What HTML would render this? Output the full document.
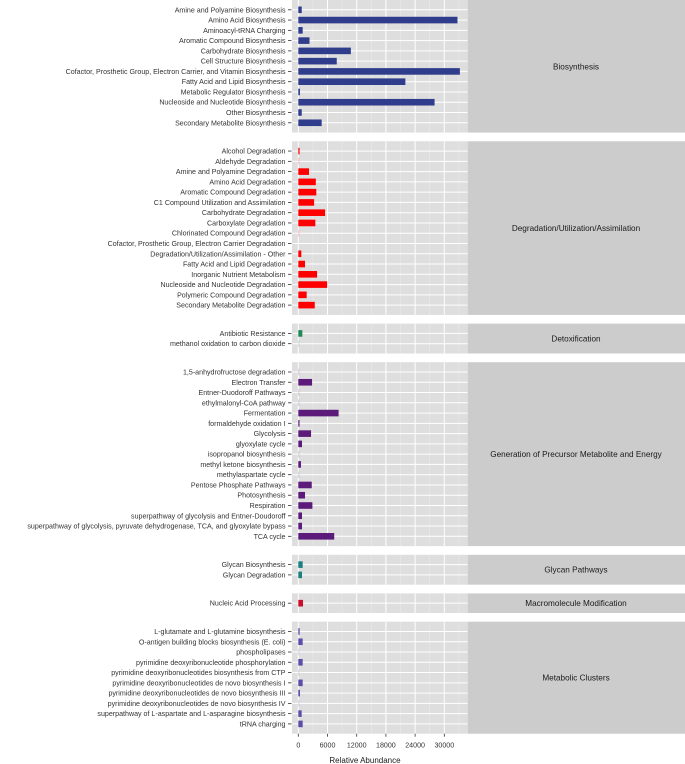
<!DOCTYPE html>
<html><head><meta charset="utf-8"><style>
html,body{margin:0;padding:0;background:#fff}
svg{display:block;font-family:"Liberation Sans",Arial,sans-serif}
</style></head><body>
<svg id="chart" width="685" height="764"></svg>
<script>
const facets = ["Biosynthesis","Degradation/Utilization/Assimilation","Detoxification","Generation of Precursor Metabolite and Energy","Glycan Pathways","Macromolecule Modification","Metabolic Clusters"];
const facetColors = ["#2f3d8c","#ff0000","#1f8a55","#5c1a7a","#1a8080","#c8102e","#5a4fa8"];
const catBio = ["Amine and Polyamine Biosynthesis","Amino Acid Biosynthesis","Aminoacyl-tRNA Charging","Aromatic Compound Biosynthesis","Carbohydrate Biosynthesis","Cell Structure Biosynthesis","Cofactor, Prosthetic Group, Electron Carrier, and Vitamin Biosynthesis","Fatty Acid and Lipid Biosynthesis","Metabolic Regulator Biosynthesis","Nucleoside and Nucleotide Biosynthesis","Other Biosynthesis","Secondary Metabolite Biosynthesis"];
const valBio = [700,32700,900,2300,10800,7900,33200,22000,340,28000,700,4800];
const catDeg = ["Alcohol Degradation","Aldehyde Degradation","Amine and Polyamine Degradation","Amino Acid Degradation","Aromatic Compound Degradation","C1 Compound Utilization and Assimilation","Carbohydrate Degradation","Carboxylate Degradation","Chlorinated Compound Degradation","Cofactor, Prosthetic Group, Electron Carrier Degradation","Degradation/Utilization/Assimilation - Other","Fatty Acid and Lipid Degradation","Inorganic Nutrient Metabolism","Nucleoside and Nucleotide Degradation","Polymeric Compound Degradation","Secondary Metabolite Degradation"];
const valDeg = [260,150,2200,3600,3700,3250,5500,3500,150,0,620,1380,3860,5930,1720,3380];
const catDet = ["Antibiotic Resistance","methanol oxidation to carbon dioxide"];
const valDet = [830,100];
const catGen = ["1,5-anhydrofructose degradation","Electron Transfer","Entner-Duodoroff Pathways","ethylmalonyl-CoA pathway","Fermentation","formaldehyde oxidation I","Glycolysis","glyoxylate cycle","isopropanol biosynthesis","methyl ketone biosynthesis","methylaspartate cycle","Pentose Phosphate Pathways","Photosynthesis","Respiration","superpathway of glycolysis and Entner-Doudoroff","superpathway of glycolysis, pyruvate dehydrogenase, TCA, and glyoxylate bypass","TCA cycle"];
const valGen = [100,2830,150,60,8280,250,2620,760,150,550,60,2760,1380,2900,760,760,7380];
const catGly = ["Glycan Biosynthesis","Glycan Degradation"];
const valGly = [900,760];
const catMac = ["Nucleic Acid Processing"];
const valMac = [970];
const catMet = ["L-glutamate and L-glutamine biosynthesis","O-antigen building blocks biosynthesis (E. coli)","phospholipases","pyrimidine deoxyribonucleotide phosphorylation","pyrimidine deoxyribonucleotides biosynthesis from CTP","pyrimidine deoxyribonucleotides de novo biosynthesis I","pyrimidine deoxyribonucleotides de novo biosynthesis III","pyrimidine deoxyribonucleotides de novo biosynthesis IV","superpathway of L-aspartate and L-asparagine biosynthesis","tRNA charging"];
const valMet = [280,900,100,900,100,900,345,100,690,900];
const xTicks = [0,6000,12000,18000,24000,30000];
const xTickLabels = ["0","6000","12000","18000","24000","30000"];

const allCats = [catBio,catDeg,catDet,catGen,catGly,catMac,catMet];
const allVals = [valBio,valDeg,valDet,valGen,valGly,valMac,valMet];

function drawChart(){
  const NS="http://www.w3.org/2000/svg";
  const svg=document.getElementById('chart');
  function mk(tag,attrs,parent){const e=document.createElementNS(NS,tag);for(const k in attrs)e.setAttribute(k,attrs[k]);(parent||svg).appendChild(e);return e;}
  const PX0=292, PX1=467.7, SX1=685;
  const xs = v => 298.3 + v*0.004867;
  const STEP=10.27, PAD=9.8, GAP=8.7;
  let yTop=0;
  for(let f=0; f<facets.length; f++){
    const cats=allCats[f], vals=allVals[f], n=cats.length;
    const h=2*PAD+(n-1)*STEP;
    const g=mk('g',{});
    
    
    mk('rect',{x:PX0,y:yTop,width:PX1-PX0,height:h,fill:'#dedede'},g);
    for(let i=0;i<xTicks.length;i++){
      const xm=xs(xTicks[i]+3000);
      if(xm<PX1) mk('line',{x1:xm,x2:xm,y1:yTop,y2:yTop+h,stroke:'#ececec','stroke-width':0.5},g);
    }
    for(let i=0;i<n;i++){
      const cy=yTop+PAD+i*STEP;
      mk('line',{x1:PX0,x2:PX1,y1:cy,y2:cy,stroke:'#fff','stroke-width':1},g);
    }
    for(let i=0;i<xTicks.length;i++){
      const xt=xs(xTicks[i]);
      mk('line',{x1:xt,x2:xt,y1:yTop,y2:yTop+h,stroke:'#fff','stroke-width':1},g);
    }
    for(let i=0;i<n;i++){
      const cy=yTop+PAD+i*STEP;
      const v=vals[i];
      if(v>0){
        const b=mk('rect',{x:xs(0),y:cy-3.3,width:Math.max(1,xs(v)-xs(0)),height:6.6,fill:facetColors[f],opacity:v<200?0.25:1},g);
        
        
      }
      mk('line',{x1:288,x2:291.5,y1:cy,y2:cy,stroke:'#333','stroke-width':0.8},g);
      const t=mk('text',{x:285.5,y:cy+2.5,'text-anchor':'end','font-size':7.1,fill:'#333'},g);
      t.textContent=cats[i];
      
      
    }
    mk('rect',{x:PX1,y:yTop,width:SX1-PX1,height:h,fill:'#cccccc'},g);
    const st=mk('text',{x:576,y:yTop+h/2+3,'text-anchor':'middle','font-size':8.2,fill:'#1a1a1a'},g);
    st.textContent=facets[f];
    
    
    yTop+=h+GAP;
  }
  const axisY=yTop-GAP;
  for(let i=0;i<xTicks.length;i++){
    const xt=xs(xTicks[i]);
    mk('line',{x1:xt,x2:xt,y1:axisY,y2:axisY+3,stroke:'#333','stroke-width':0.8});
    const t=mk('text',{x:xt,y:axisY+14,'text-anchor':'middle','font-size':7.1,fill:'#333'});
    t.textContent=xTickLabels[i];
    
    
  }
  const title=mk('text',{x:365,y:axisY+29.5,'text-anchor':'middle','font-size':8,fill:'#1a1a1a'});
  title.textContent='Relative Abundance';
  
  
}
drawChart();
</script>
</body></html>
